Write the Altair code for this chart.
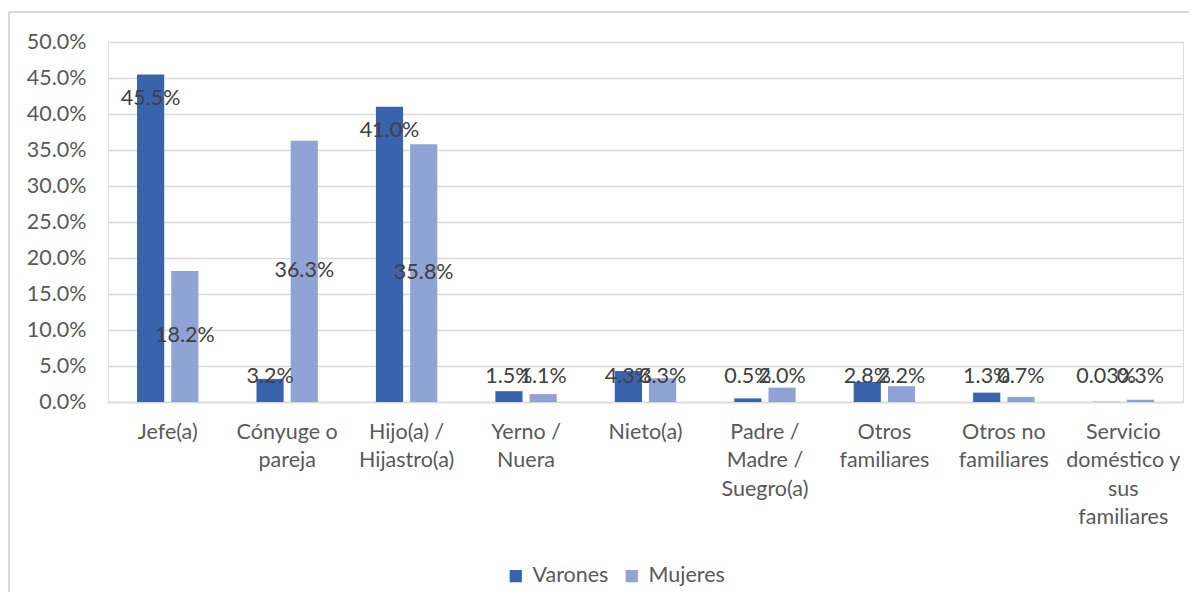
import altair as alt
import pandas as pd

categories = [
    "Jefe(a)",
    "Cónyuge o|pareja",
    "Hijo(a) /|Hijastro(a)",
    "Yerno /|Nuera",
    "Nieto(a)",
    "Padre /|Madre /|Suegro(a)",
    "Otros|familiares",
    "Otros no|familiares",
    "Servicio|doméstico y|sus|familiares",
]
series = ["Varones", "Mujeres"]
varones = [45.5, 3.2, 41.0, 1.5, 4.3, 0.5, 2.8, 1.3, 0.03]
mujeres = [18.2, 36.3, 35.8, 1.1, 3.3, 2.0, 2.2, 0.7, 0.3]
varones_labels = ["45.5%", "3.2%", "41.0%", "1.5%", "4.3%", "0.5%", "2.8%", "1.3%", "0.03%"]
mujeres_labels = ["18.2%", "36.3%", "35.8%", "1.1%", "3.3%", "2.0%", "2.2%", "0.7%", "0.3%"]
y_ticks = [0, 5, 10, 15, 20, 25, 30, 35, 40, 45, 50]
colors = ["#3A63AD", "#8FA4D5"]

rows = []
for i, c in enumerate(categories):
    rows.append({"cat": c, "serie": "Varones", "value": varones[i], "label": varones_labels[i]})
    rows.append({"cat": c, "serie": "Mujeres", "value": mujeres[i], "label": mujeres_labels[i]})
df = pd.DataFrame(rows)

FONT = "Lato"
FS = 21.5

x_enc = alt.X(
    "cat:N",
    sort=categories,
    title=None,
    scale=alt.Scale(paddingInner=0.486, paddingOuter=0.243),
    axis=alt.Axis(
        labelExpr="split(datum.label, '|')",
        labelAngle=0,
        labelFontSize=FS,
        labelColor="#595959",
        labelFont=FONT,
        labelLineHeight=28.5,
        labelPadding=19,
        ticks=False,
        domain=True,
        domainColor="#D9D9D9",
        domainWidth=1.5,
        labelLimit=200,
    ),
)
xoff = alt.XOffset("serie:N", sort=series, scale=alt.Scale(paddingInner=0.206, paddingOuter=0))

y_axis = alt.Axis(
    values=y_ticks,
    labelExpr="format(datum.value, '.1f') + '%'",
    labelFontSize=FS,
    labelColor="#595959",
    labelFont=FONT,
    labelPadding=22,
    labelOverlap=False,
    ticks=False,
    domain=False,
    grid=True,
    gridColor="#D9D9D9",
    gridWidth=1.5,
)

base = alt.Chart(df)

bars = base.mark_bar().encode(
    x=x_enc,
    xOffset=xoff,
    y=alt.Y("value:Q", title=None, scale=alt.Scale(domain=[0, 50]), axis=y_axis),
    color=alt.Color(
        "serie:N",
        sort=series,
        scale=alt.Scale(domain=series, range=colors),
        legend=alt.Legend(
            title=None,
            orient="none",
            direction="horizontal",
            legendX=397,
            legendY=523,
            symbolType="square",
            symbolSize=150,
            symbolStrokeWidth=0,
            labelFontSize=FS,
            labelColor="#595959",
            labelFont=FONT,
            columnPadding=12,
            labelOffset=6,
        ),
    ),
)

labels = base.transform_calculate(
    pos="datum.serie == 'Varones' ? max(datum.value - 3.4, 3.5) : max(datum.value / 2, 3.5)"
).mark_text(fontSize=FS, font=FONT, color="#404040", baseline="middle").encode(
    x=x_enc,
    xOffset=xoff,
    y=alt.Y("pos:Q", title=None, scale=alt.Scale(domain=[0, 50]), axis=y_axis),
    text="label:N",
)

border_left = alt.Chart(df).mark_rule(color="#D9D9D9", strokeWidth=1.5).encode(
    x=alt.value(-99), y=alt.value(-30), y2=alt.value(570)
)
border_top = alt.Chart(df).mark_rule(color="#D9D9D9", strokeWidth=1.5).encode(
    x=alt.value(-99), x2=alt.value(1081), y=alt.value(-30)
)

chart = alt.layer(bars, labels, border_left, border_top).properties(
    width=1075,
    height=360,
    autosize=alt.AutoSizeParams(type="none"),
    padding={"left": 100, "top": 34, "right": 6, "bottom": 190},
).configure_view(stroke=None).configure(background="white")

chart.save("out.html", embed_options={"renderer": "svg", "actions": False})
